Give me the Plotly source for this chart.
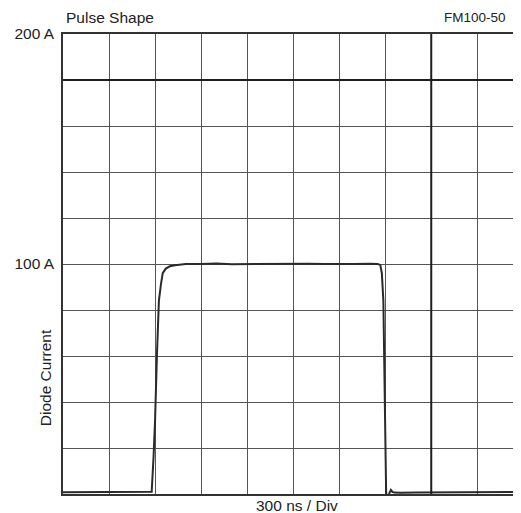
import plotly.graph_objects as go

# ---- data ----
time_ns = [0, 100, 200, 300, 400, 500, 560, 578, 590, 600, 612, 625, 638, 650, 670, 696,
           730, 760, 800, 900, 1000, 1100, 1200, 1300, 1400, 1500, 1600, 1700, 1800, 1900,
           2000, 2050, 2068, 2078, 2088, 2098, 2106, 2113, 2120, 2128, 2137, 2147, 2160,
           2200, 2300, 2400, 2500, 2600, 2700, 2800, 2900, 2985]
current_a = [0.8, 0.8, 0.7, 0.8, 0.8, 0.8, 0.8, 1.0, 16, 32, 60, 84, 91, 96, 98, 99,
             99.5, 99.8, 100, 100, 100.2, 99.9, 100, 100.1, 99.9, 100, 100.1, 100, 99.9, 100,
             100.1, 100, 99.6, 96, 84, 40, 1, -3.0, -1, 0.5, 1.8, 0.9, 0.6,
             0.5, 0.6, 0.6, 0.7, 0.8, 0.8, 0.9, 0.9, 0.9]

x_grid = [0, 300, 600, 900, 1200, 1500, 1800, 2100, 2400, 2700, 3000]
y_grid = [0, 20, 40, 60, 80, 100, 120, 140, 160, 180, 200]
y_ticktext = ["", "", "", "", "", "100 A", "", "", "", "", "200 A"]
x_range = [0, 2985]
y_range = [0, 200]
marker_time = 2400
marker_current = 180

title_text = "Pulse Shape"
part_text = "FM100-50"
x_label = "300 ns / Div"
y_label = "Diode Current"

FONT = "Liberation Sans, Arial, sans-serif"
TXT = "#222222"
GRID = "#555555"

fig = go.Figure()
fig.add_trace(go.Scatter(x=time_ns, y=current_a, mode="lines",
                         line=dict(color="#2a2a2a", width=2), hoverinfo="skip"))

fig.add_shape(type="line", xref="x", yref="paper", x0=marker_time, x1=marker_time,
              y0=0, y1=1, line=dict(color="#1e1e1e", width=2))
fig.add_shape(type="line", xref="paper", yref="y", x0=0, x1=1,
              y0=marker_current, y1=marker_current, line=dict(color="#1e1e1e", width=2))

# page body has an 8px margin, so the figure is sized/offset to compensate
fig.update_layout(
    width=513, height=505,
    margin=dict(l=55, r=0, t=26, b=19),
    paper_bgcolor="white", plot_bgcolor="white",
    showlegend=False,
    font=dict(family=FONT, color=TXT, size=15.5),
    xaxis=dict(range=x_range, tickvals=x_grid, showticklabels=False,
               showgrid=True, gridcolor=GRID, gridwidth=1,
               zeroline=False, showline=True, linecolor="#333333", linewidth=1.5,
               mirror=True, ticks=""),
    yaxis=dict(range=y_range, tickvals=y_grid, ticktext=y_ticktext,
               showgrid=True, gridcolor=GRID, gridwidth=1,
               zeroline=False, showline=True, linecolor="#333333", linewidth=1.5,
               ticks="", ticklabelstandoff=4,
               tickfont=dict(family=FONT, color=TXT, size=15.5)),
    annotations=[
        dict(text=title_text, xref="paper", yref="paper", x=0.002, y=1.035,
             xanchor="left", yanchor="middle", showarrow=False,
             font=dict(family=FONT, color=TXT, size=15.5)),
        dict(text=part_text, xref="paper", yref="paper", x=0.8996, y=1.035,
             xanchor="center", yanchor="middle", showarrow=False,
             font=dict(family=FONT, color=TXT, size=13.5)),
        dict(text=x_label, xref="paper", yref="paper", x=0.511, y=-0.005,
             xanchor="center", yanchor="top", showarrow=False, borderpad=0,
             font=dict(family=FONT, color=TXT, size=15.5)),
        dict(text=y_label, xref="paper", yref="paper", x=-0.039, y=0.252,
             xanchor="center", yanchor="middle", showarrow=False, textangle=-90,
             font=dict(family=FONT, color=TXT, size=15.5)),
    ],
)

fig.write_html("out.html")
